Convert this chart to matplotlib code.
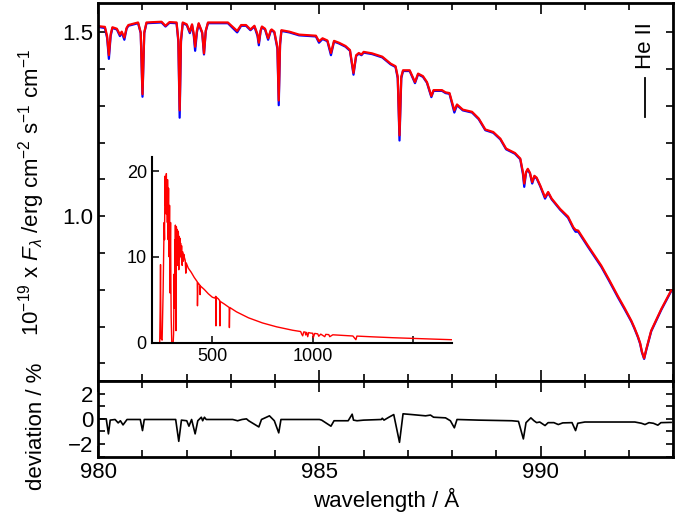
import matplotlib
matplotlib.use('Agg')
import matplotlib.pyplot as plt
import numpy as np
from matplotlib.ticker import MultipleLocator, FixedLocator

plt.rcParams['font.family'] = ['Liberation Sans', 'DejaVu Sans']
plt.rcParams['mathtext.fontset'] = 'custom'
plt.rcParams['mathtext.rm'] = 'Liberation Sans'
plt.rcParams['mathtext.it'] = 'Liberation Sans:italic'

# spectrum around He II 992 A
wave = [980.00, 980.15, 980.20, 980.24, 980.28, 980.32, 980.42, 980.49, 980.53, 980.59,
        980.64, 980.68, 980.90, 980.96, 981.00, 981.04, 981.09, 981.43, 981.52, 981.61,
        981.77, 981.81, 981.84, 981.87, 981.91, 982.00, 982.07, 982.12, 982.16, 982.19,
        982.23, 982.27, 982.35, 982.39, 982.43, 982.48, 982.93, 983.14, 983.23, 983.34,
        983.44, 983.53, 983.60, 983.63, 983.67, 983.70, 983.77, 983.84, 983.90, 983.92,
        983.98, 984.05, 984.08, 984.11, 984.14, 984.32, 984.54, 984.92, 984.99, 985.07,
        985.18, 985.26, 985.33, 985.44, 985.59, 985.69, 985.77, 985.83, 985.89, 985.95,
        986.00, 986.19, 986.42, 986.61, 986.72, 986.77, 986.81, 986.85, 986.89, 987.04,
        987.16, 987.23, 987.34, 987.43, 987.53, 987.58, 987.77, 987.85, 987.94, 988.05,
        988.11, 988.24, 988.45, 988.60, 988.75, 988.93, 989.09, 989.22, 989.42, 989.54,
        989.60, 989.63, 989.67, 989.71, 989.76, 989.81, 989.86, 989.91, 989.99, 990.10,
        990.17, 990.25, 990.38, 990.44, 990.62, 990.74, 990.79, 990.85, 991.07, 991.37,
        991.55, 991.75, 991.90, 992.05, 992.12, 992.20, 992.25, 992.29, 992.34, 992.39,
        992.50, 992.73, 992.95]

flux_obs = [1.517, 1.515, 1.490, 1.438, 1.495, 1.514, 1.510, 1.494, 1.502, 1.486,
            1.512, 1.520, 1.527, 1.500, 1.332, 1.500, 1.527, 1.529, 1.518, 1.528,
            1.527, 1.480, 1.288, 1.480, 1.527, 1.522, 1.502, 1.522, 1.495, 1.461,
            1.505, 1.525, 1.500, 1.443, 1.505, 1.527, 1.527, 1.504, 1.520, 1.520,
            1.508, 1.518, 1.495, 1.472, 1.505, 1.516, 1.510, 1.484, 1.506, 1.508,
            1.502, 1.460, 1.315, 1.470, 1.506, 1.502, 1.494, 1.491, 1.476, 1.484,
            1.478, 1.444, 1.477, 1.472, 1.463, 1.452, 1.390, 1.438, 1.444, 1.440,
            1.447, 1.443, 1.434, 1.415, 1.408, 1.380, 1.220, 1.380, 1.397, 1.397,
            1.365, 1.388, 1.381, 1.365, 1.327, 1.343, 1.343, 1.337, 1.335, 1.288,
            1.304, 1.290, 1.284, 1.266, 1.236, 1.229, 1.211, 1.184, 1.172, 1.157,
            1.120, 1.089, 1.120, 1.129, 1.118, 1.093, 1.110, 1.105, 1.084, 1.052,
            1.066, 1.048, 1.029, 1.020, 0.999, 0.970, 0.963, 0.961, 0.920, 0.866,
            0.827, 0.782, 0.750, 0.716, 0.697, 0.673, 0.655, 0.632, 0.614, 0.639,
            0.689, 0.748, 0.798]

flux_mod = [1.515, 1.512, 1.485, 1.428, 1.490, 1.512, 1.508, 1.490, 1.500, 1.480,
            1.510, 1.518, 1.525, 1.498, 1.325, 1.498, 1.525, 1.527, 1.516, 1.526,
            1.525, 1.475, 1.268, 1.475, 1.525, 1.520, 1.498, 1.520, 1.490, 1.450,
            1.500, 1.523, 1.498, 1.440, 1.503, 1.525, 1.525, 1.500, 1.518, 1.518,
            1.506, 1.516, 1.490, 1.465, 1.503, 1.514, 1.508, 1.480, 1.504, 1.506,
            1.500, 1.455, 1.302, 1.465, 1.504, 1.500, 1.492, 1.489, 1.472, 1.482,
            1.476, 1.438, 1.475, 1.470, 1.461, 1.450, 1.385, 1.436, 1.442, 1.438,
            1.445, 1.441, 1.432, 1.413, 1.406, 1.375, 1.206, 1.375, 1.395, 1.395,
            1.362, 1.386, 1.379, 1.363, 1.324, 1.341, 1.341, 1.335, 1.333, 1.282,
            1.302, 1.288, 1.282, 1.264, 1.234, 1.227, 1.209, 1.182, 1.170, 1.155,
            1.115, 1.080, 1.118, 1.127, 1.116, 1.089, 1.108, 1.103, 1.082, 1.048,
            1.064, 1.046, 1.027, 1.018, 0.996, 0.967, 0.958, 0.958, 0.917, 0.863,
            0.824, 0.779, 0.747, 0.714, 0.695, 0.671, 0.653, 0.630, 0.612, 0.637,
            0.687, 0.746, 0.796]

# deviation in %
dev_wave = [980.00, 980.18, 980.23, 980.27, 980.38, 980.45, 980.50, 980.56, 980.65, 980.95,
            981.00, 981.04, 981.75, 981.82, 981.88, 982.00, 982.05, 982.11, 982.19, 982.25,
            982.33, 982.36, 982.40, 982.44, 983.04, 983.15, 983.25, 983.35, 983.40, 983.63,
            983.69, 983.87, 983.98, 984.08, 984.13, 985.00, 985.05, 985.26, 985.33, 985.65,
            985.74, 985.77, 985.85, 986.00, 986.40, 986.42, 986.46, 986.57, 986.68, 986.81,
            986.89, 987.09, 987.40, 987.51, 987.58, 987.85, 987.96, 988.05, 988.11, 988.60,
            989.35, 989.50, 989.61, 989.67, 989.78, 989.85, 989.91, 989.98, 990.10, 990.17,
            990.30, 990.40, 990.50, 990.71, 990.79, 990.84, 991.00, 991.60, 992.13, 992.28,
            992.36, 992.45, 992.55, 992.65, 992.72, 992.95]
dev = [0.0, 0.0, -1.19, -0.1, -0.05, -0.32, -0.15, -0.48, -0.05, -0.05,
       -0.93, -0.05, -0.05, -1.78, -0.1, -0.15, -0.58, -0.05, -1.19, -0.15,
       0.13, -0.15, 0.13, -0.05, -0.05, -0.15, -0.05, 0.0, -0.15, -0.64,
       -0.05, 0.24, -0.15, -1.11, -0.05, -0.05, -0.1, -0.58, -0.15, -0.15,
       0.37, -0.1, -0.15, -0.1, -0.05, 0.05, -0.1, 0.13, 0.34, -1.86,
       0.40, 0.34, 0.24, 0.30, 0.13, 0.08, -0.15, -0.71, -0.05, -0.1,
       -0.15, -0.2, -1.59, -0.3, 0.08, -0.15, -0.3, -0.25, -0.53, -0.3,
       -0.3, -0.45, -0.32, -0.3, -0.93, -0.35, -0.25, -0.25, -0.25, -0.35,
       -0.45, -0.3, -0.35, -0.5, -0.3, -0.28]

# full spectrum for the inset
full_wave = [230, 238, 240, 242, 244, 250, 255, 258, 260, 262, 264, 266, 268, 270, 271,
             273, 274, 276, 277, 279, 280, 282, 283, 285, 287, 288, 289, 291, 292, 294,
             295, 298, 305, 307, 310, 312, 313, 315, 316, 319, 321, 323, 325, 327, 328,
             330, 331, 333, 334, 336, 338, 340, 342, 345, 347, 350, 352, 356, 358, 360,
             365, 368, 370, 380, 395, 410, 425, 426, 428, 438, 439, 441, 460, 480, 500,
             512, 517, 518, 520, 530, 537, 538, 540, 560, 584, 585, 587, 620, 680, 750,
             820, 900, 940, 945, 950, 955, 962, 965, 970, 975, 980, 990, 1000, 1003,
             1010, 1025, 1030, 1040, 1060, 1065, 1080, 1085, 1100, 1150, 1200, 1215, 1220,
             1300, 1400, 1500, 1600, 1690]
full_flux = [0.0, 0.0, 3.5, 9.1, 0.5, 0.3, 6.0, 11.0, 14.0, 12.0, 19.4, 16.0, 17.5, 15.0, 19.7,
             16.5, 18.0, 14.0, 19.0, 15.5, 12.0, 18.0, 11.0, 10.0, 16.0, 9.0, 5.8, 12.0, 14.0, 6.0,
             3.0, 0.0, 0.0, 1.0, 8.0, 4.0, 12.0, 9.0, 13.7, 1.4, 13.5, 10.5, 13.2, 9.0, 11.0,
             13.0, 12.8, 8.5, 12.4, 9.7, 12.2, 10.0, 11.6, 10.0, 11.3, 9.0, 10.6, 9.5, 10.3, 10.0,
             9.6, 8.1, 9.3, 8.7, 8.2, 7.6, 7.1, 4.3, 7.0, 6.7, 5.6, 6.6, 6.2, 5.7, 5.3,
             5.2, 5.4, 1.96, 5.3, 5.1, 4.9, 1.96, 4.8, 4.5, 4.1, 1.76, 4.1, 3.6, 2.9, 2.3,
             1.85, 1.45, 1.3, 1.0, 0.8, 1.25, 1.25, 0.9, 1.2, 0.7, 1.18, 1.12, 1.1, 0.6,
             1.08, 1.03, 0.75, 1.0, 0.7, 0.97, 0.94, 0.7, 0.92, 0.85, 0.78, 0.35, 0.77,
             0.68, 0.58, 0.5, 0.42, 0.35]

fig = plt.figure(figsize=(6.92, 5.24), dpi=100)
ax = fig.add_axes([0.142, 0.2729, 0.831, 0.7214])
ax2 = fig.add_axes([0.142, 0.1284, 0.831, 0.1445], sharex=ax)

ax.plot(wave, flux_mod, color='blue', lw=1.6)
ax.plot(wave, flux_obs, color='red', lw=1.6)
ax.set_xlim(980, 993)
ax.set_ylim(0.552, 1.58)
ax.yaxis.set_major_locator(FixedLocator([1.0, 1.5]))
ax.yaxis.set_minor_locator(MultipleLocator(0.1))
ax.set_yticklabels(['1.0', '1.5'])
ax.set_ylabel(r'10$^{-19}$ x $F_{\lambda}$ /erg cm$^{-2}$ s$^{-1}$ cm$^{-1}$', fontsize=16)
ax.tick_params(labelbottom=False)

# He II label
ax.text(0.951, 0.888, 'He II', transform=ax.transAxes, rotation=90,
        ha='center', va='center', fontsize=16)
ax.plot([0.951, 0.951], [0.698, 0.802], transform=ax.transAxes, color='black', lw=1.3)

ax2.plot(dev_wave, dev, color='black', lw=1.2)
ax2.set_ylim(-3, 3)
ax2.yaxis.set_major_locator(FixedLocator([-2, 0, 2]))
ax2.yaxis.set_minor_locator(MultipleLocator(1))
ax2.set_ylabel('deviation / %', fontsize=16)
ax2.set_xlabel('wavelength / Å', fontsize=16)
ax2.xaxis.set_major_locator(MultipleLocator(5))
ax2.xaxis.set_minor_locator(MultipleLocator(1))

for a in (ax, ax2):
    for s in a.spines.values():
        s.set_linewidth(2)
    a.tick_params(which='both', direction='in', top=True, right=True, labelsize=16, width=1.2)
    a.tick_params(which='major', length=8)
    a.tick_params(which='minor', length=5)
ax.tick_params(axis='y', which='major', length=5)
ax2.tick_params(axis='y', which='major', length=5)

ylab_x = -0.09
ax.yaxis.set_label_coords(ylab_x, 0.5)
ax2.yaxis.set_label_coords(ylab_x, 0.4)

# inset with full spectrum
axin = fig.add_axes([0.2192, 0.346, 0.4335, 0.3538])
axin.plot(full_wave, full_flux, color='red', lw=1.0)
axin.set_xlim(198, 1692)
axin.set_ylim(0, 21.6)
axin.set_xticks([500, 1000, 1500])
axin.set_xticklabels(['500', '1000', ''])
axin.set_yticks([0, 10, 20])
axin.spines['top'].set_visible(False)
axin.spines['right'].set_visible(False)
for s in ('left', 'bottom'):
    axin.spines[s].set_linewidth(1.5)
axin.tick_params(direction='in', labelsize=13, length=5, width=1.1)
axin.patch.set_alpha(0)

fig.savefig('out.png', dpi=100)
